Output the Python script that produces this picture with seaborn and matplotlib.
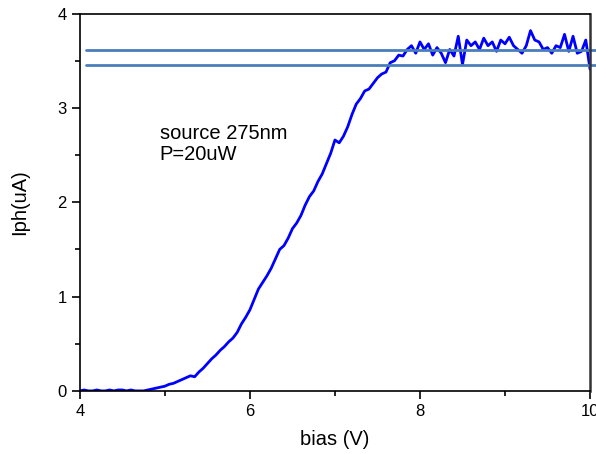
import matplotlib
matplotlib.use("Agg")
import matplotlib.pyplot as plt
from matplotlib.ticker import MultipleLocator
import seaborn as sns
import pandas as pd

bias = [4.00, 4.05, 4.10, 4.15, 4.20, 4.25, 4.30, 4.35, 4.40, 4.45,
        4.50, 4.55, 4.60, 4.65, 4.70, 4.75, 4.80, 4.85, 4.90, 4.95,
        5.00, 5.05, 5.10, 5.15, 5.20, 5.25, 5.30, 5.35, 5.40, 5.45,
        5.50, 5.55, 5.60, 5.65, 5.70, 5.75, 5.80, 5.85, 5.90, 5.95,
        6.00, 6.05, 6.10, 6.15, 6.20, 6.25, 6.30, 6.35, 6.40, 6.45,
        6.50, 6.55, 6.60, 6.65, 6.70, 6.75, 6.80, 6.85, 6.90, 6.95,
        7.00, 7.05, 7.10, 7.15, 7.20, 7.25, 7.30, 7.35, 7.40, 7.45,
        7.50, 7.55, 7.60, 7.65, 7.70, 7.75, 7.80, 7.85, 7.90, 7.95,
        8.00, 8.05, 8.10, 8.15, 8.20, 8.25, 8.30, 8.35, 8.40, 8.45,
        8.50, 8.55, 8.60, 8.65, 8.70, 8.75, 8.80, 8.85, 8.90, 8.95,
        9.00, 9.05, 9.10, 9.15, 9.20, 9.25, 9.30, 9.35, 9.40, 9.45,
        9.50, 9.55, 9.60, 9.65, 9.70, 9.75, 9.80, 9.85, 9.90, 9.95,
        10.00]

iph = [0.00, 0.01, 0.00, 0.00, 0.01, 0.00, 0.00, 0.01, 0.00, 0.01,
       0.01, 0.00, 0.01, 0.00, 0.00, 0.00, 0.01, 0.02, 0.03, 0.04,
       0.05, 0.07, 0.08, 0.10, 0.12, 0.14, 0.16, 0.15, 0.20, 0.24,
       0.29, 0.34, 0.38, 0.43, 0.47, 0.52, 0.56, 0.62, 0.71, 0.78,
       0.86, 0.97, 1.08, 1.15, 1.22, 1.30, 1.40, 1.50, 1.54, 1.62,
       1.72, 1.78, 1.86, 1.97, 2.06, 2.12, 2.22, 2.30, 2.41, 2.52,
       2.66, 2.63, 2.70, 2.80, 2.93, 3.04, 3.10, 3.18, 3.20, 3.26,
       3.32, 3.36, 3.38, 3.48, 3.50, 3.56, 3.55, 3.62, 3.66, 3.58,
       3.70, 3.62, 3.68, 3.56, 3.64, 3.58, 3.48, 3.62, 3.55, 3.76,
       3.46, 3.72, 3.66, 3.70, 3.62, 3.74, 3.66, 3.70, 3.60, 3.72,
       3.68, 3.75, 3.66, 3.62, 3.58, 3.66, 3.82, 3.72, 3.70, 3.62,
       3.64, 3.58, 3.66, 3.64, 3.78, 3.60, 3.76, 3.58, 3.60, 3.72,
       3.41]

ref_levels = [3.61, 3.45]
annotation = "source 275nm\nP=20uW"

sns.set_style("ticks")
plt.rcParams["font.family"] = ["Liberation Sans", "DejaVu Sans"]
plt.rcParams["text.color"] = "black"
plt.rcParams["axes.labelcolor"] = "black"

fig = plt.figure(figsize=(5.96, 4.54), dpi=100)
ax = fig.add_axes([0.134, 0.139, 0.856, 0.831])

df = pd.DataFrame({"bias": bias, "iph": iph})
sns.lineplot(data=df, x="bias", y="iph", ax=ax, color="#0000ff", linewidth=2.0)

for lv in ref_levels:
    ax.axhline(lv, xmin=0.012, xmax=1.02, color="#4a7ebb", linewidth=2.0, clip_on=False)

ax.set_xlim(4, 10)
ax.set_ylim(0, 4)
ax.xaxis.set_major_locator(MultipleLocator(2))
ax.xaxis.set_minor_locator(MultipleLocator(1))
ax.yaxis.set_major_locator(MultipleLocator(1))
ax.yaxis.set_minor_locator(MultipleLocator(0.5))
ax.tick_params(which="major", direction="out", length=6, width=1.2, labelsize=12,
               colors="black", labelcolor="black")
ax.tick_params(which="minor", direction="out", length=3.5, width=1.2, colors="black")
for s in ax.spines.values():
    s.set_visible(True)
    s.set_linewidth(1.2)
    s.set_color("black")
ax.spines["right"].set_color("#333333")
ax.spines["right"].set_linewidth(1.8)

ax.set_xlabel("bias (V)", fontsize=14.5, labelpad=8)
ax.set_ylabel("Iph(uA)", fontsize=14.5, labelpad=20)
ax.text(4.94, 2.62, annotation, fontsize=14.5, va="center", ha="left", linespacing=1.15)

fig.savefig("out.png", dpi=100)
